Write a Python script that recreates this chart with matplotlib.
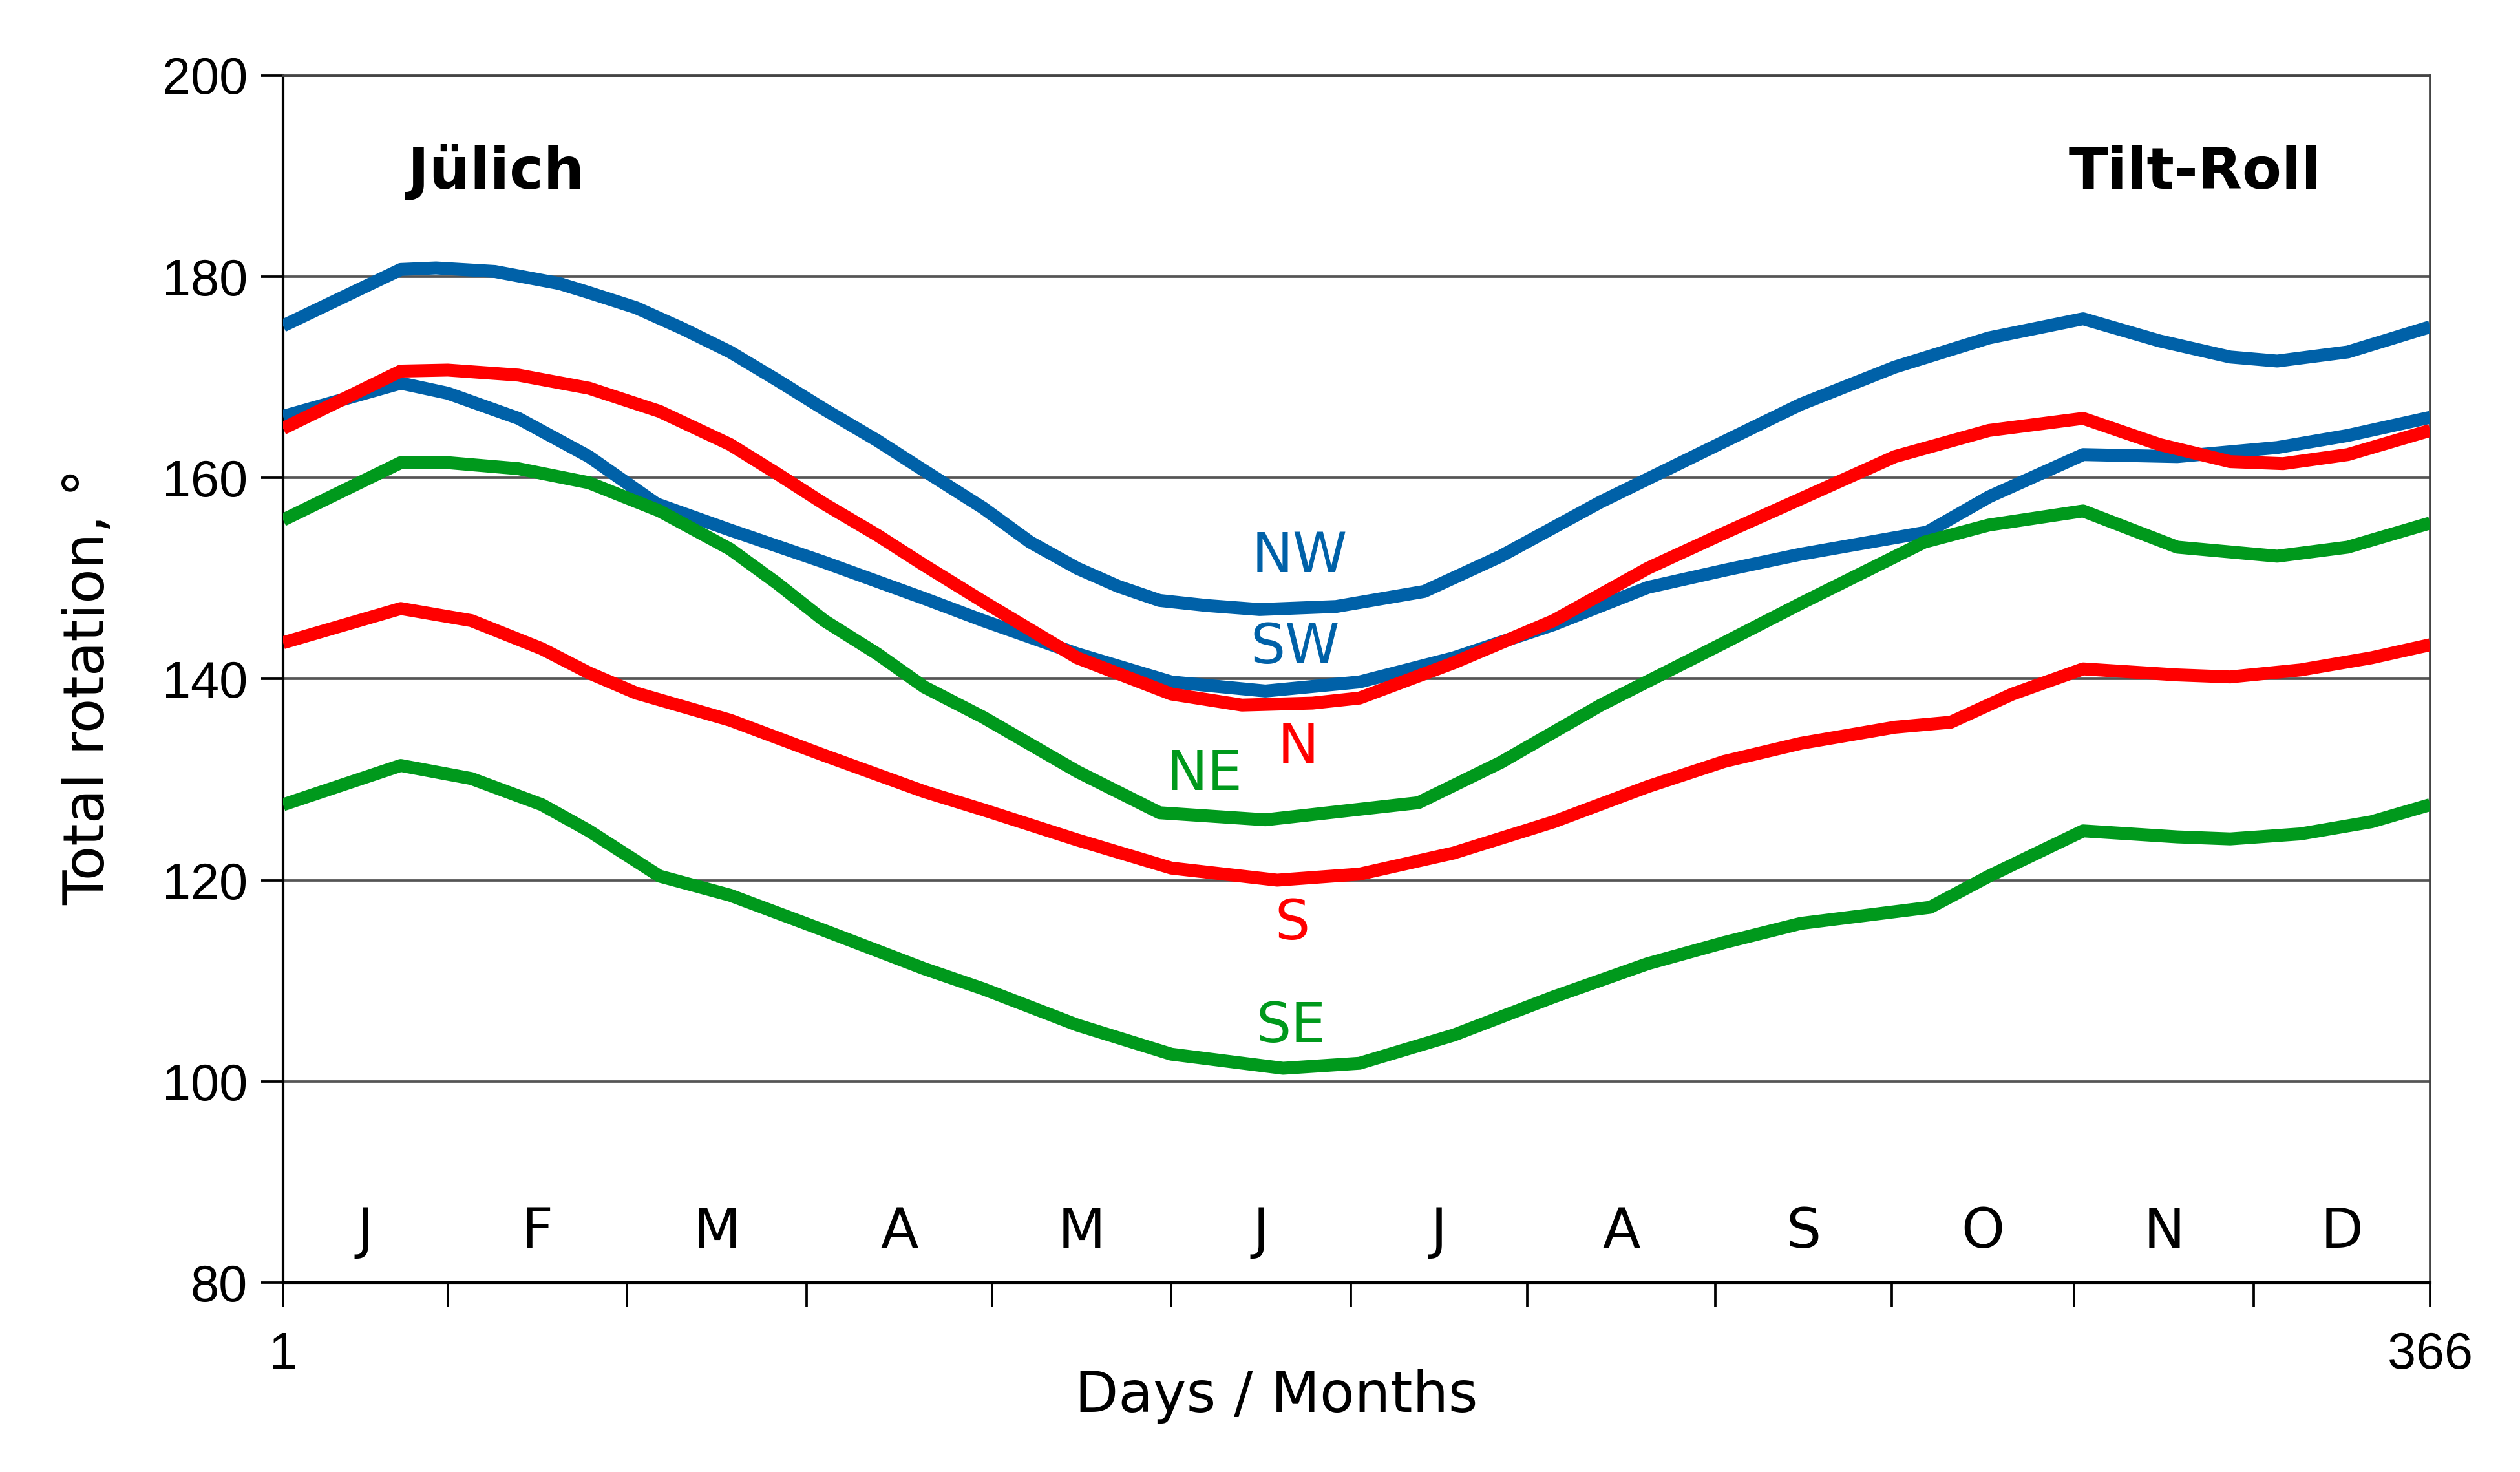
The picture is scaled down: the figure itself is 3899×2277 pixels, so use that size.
import matplotlib.pyplot as plt

# Werte (Tag im Jahr, Gesamtrotation in Grad)
nw_days = [1, 21, 27, 37, 48, 53, 61, 69, 77, 85, 93, 102, 110, 120, 128, 136, 143, 150, 158, 167, 180, 195, 208, 225, 246, 259, 275, 291, 307, 320, 332, 340, 352, 366]
nw_vals = [175.1, 180.7, 180.85, 180.5, 179.3, 178.4, 176.9, 174.8, 172.5, 169.7, 166.8, 163.7, 160.7, 157.0, 153.6, 151.0, 149.2, 147.8, 147.3, 146.9, 147.2, 148.7, 152.2, 157.6, 163.6, 167.3, 171.0, 173.9, 175.8, 173.6, 172.0, 171.6, 172.5, 175.0]

sw_days = [1, 21, 29, 41, 53, 64.5, 77, 93, 110, 120, 136, 152, 168, 184, 200, 217, 233, 246, 259, 280.5, 291, 307, 323, 340, 352, 366]
sw_vals = [166.1, 169.4, 168.4, 165.9, 162.1, 157.4, 154.8, 151.6, 148.0, 145.8, 142.5, 139.7, 138.8, 139.7, 142.1, 145.4, 149.1, 150.8, 152.4, 154.6, 158.1, 162.3, 162.1, 163.0, 164.2, 166.0]

n_days = [1, 21, 29, 41, 53, 65, 77, 85, 93, 102, 110, 120, 136, 152, 164, 176, 184, 200, 217, 233, 246, 259, 275, 291, 307, 320, 332, 341, 352, 366]
n_vals = [164.9, 170.6, 170.7, 170.2, 168.9, 166.6, 163.3, 160.4, 157.4, 154.3, 151.3, 147.7, 142.1, 138.5, 137.4, 137.6, 138.1, 141.6, 145.8, 151.0, 154.5, 157.9, 162.1, 164.7, 165.9, 163.3, 161.6, 161.4, 162.3, 164.7]

s_days = [1, 21, 33, 45, 53, 61, 77, 93, 110, 120, 136, 152, 170, 184, 200, 217, 233, 246, 259, 275, 284.5, 295, 307, 323, 332, 344, 356, 366]
s_vals = [143.6, 147.0, 145.8, 143.0, 140.6, 138.6, 135.9, 132.4, 128.8, 127.0, 124.0, 121.2, 120.0, 120.6, 122.7, 125.8, 129.3, 131.8, 133.6, 135.2, 135.7, 138.5, 141.0, 140.4, 140.2, 140.9, 142.1, 143.4]

ne_days = [1, 21, 29, 41, 53, 65, 77, 85, 93, 102, 110, 120, 136, 150, 168, 194, 208, 225, 246, 259, 280, 291, 307, 323, 340, 352, 366]
ne_vals = [155.8, 161.5, 161.5, 160.9, 159.5, 156.7, 152.9, 149.5, 145.8, 142.5, 139.2, 136.2, 130.8, 126.7, 126.0, 127.7, 131.7, 137.4, 143.6, 147.5, 153.6, 155.3, 156.7, 153.1, 152.2, 153.1, 155.5]

se_days = [1, 21, 33, 45, 53, 65, 77, 93, 110, 120, 136, 152, 171, 184, 200, 217, 233, 246, 259, 281, 291, 307, 323, 332, 344, 356, 366]
se_vals = [127.5, 131.4, 130.1, 127.5, 124.9, 120.4, 118.5, 115.0, 111.2, 109.2, 105.6, 102.7, 101.3, 101.8, 104.6, 108.4, 111.7, 113.8, 115.7, 117.3, 120.4, 124.9, 124.3, 124.1, 124.6, 125.8, 127.5]

month_ticks = [1, 29, 59.5, 90, 121.5, 152, 182.5, 212.5, 244.5, 274.5, 305.5, 336, 366]
month_letters = ['J', 'F', 'M', 'A', 'M', 'J', 'J', 'A', 'S', 'O', 'N', 'D']
y_ticks = [80, 100, 120, 140, 160, 180, 200]

BLUE = '#0061a8'
RED = '#ff0000'
GREEN = '#00991c'

series = [
    (nw_days, nw_vals, BLUE),
    (sw_days, sw_vals, BLUE),
    (n_days, n_vals, RED),
    (s_days, s_vals, RED),
    (ne_days, ne_vals, GREEN),
    (se_days, se_vals, GREEN),
]
# Beschriftungen der Kurven (Tag, Wert)
curve_labels = [
    ('NW', 173.8, 152.1, BLUE),
    ('SW', 173.0, 143.1, BLUE),
    ('N', 173.6, 133.2, RED),
    ('NE', 157.6, 130.5, GREEN),
    ('S', 172.6, 115.6, RED),
    ('SE', 172.3, 105.4, GREEN),
]

fig = plt.figure(figsize=(3899 / 300, 2277 / 300), dpi=300)
ax = fig.add_axes([438 / 3899, 1 - 1984 / 2277, (3760 - 438) / 3899, (1984 - 116.5) / 2277])

for y in y_ticks[1:]:
    ax.axhline(y, color='#555555', lw=0.9, zorder=1)

for d, v, c in series:
    ax.plot(d, v, color=c, lw=4.8, solid_joinstyle='round', solid_capstyle='butt', zorder=3)

for txt, x, y, c in curve_labels:
    ax.text(x, y, txt, color=c, fontsize=20.5, ha='center', va='center', family='DejaVu Sans')

for i, m in enumerate(month_letters):
    ax.text((month_ticks[i] + month_ticks[i + 1]) / 2, 85.0, m, fontsize=20.5,
            ha='center', va='center', family='DejaVu Sans')

ax.text(37.2, 190.3, 'Jülich', fontsize=21.3, fontweight='bold', ha='center', va='center')
ax.text(326, 190.3, 'Tilt-Roll', fontsize=21.3, fontweight='bold', ha='center', va='center')

ax.set_xlim(1, 366)
ax.set_ylim(80, 200)
ax.set_yticks(y_ticks)
ax.set_yticklabels([str(t) for t in y_ticks], family='Liberation Sans', fontsize=19)
ax.set_xticks(month_ticks)
ax.set_xticklabels(['1'] + [''] * 11 + ['366'], family='Liberation Sans', fontsize=19)
ax.tick_params(axis='y', direction='out', length=8.2, width=0.9, pad=5)
ax.tick_params(axis='x', direction='out', length=8.9, width=0.9, pad=9)

for side in ['left', 'bottom']:
    ax.spines[side].set_color('black')
    ax.spines[side].set_linewidth(1.0)
for side in ['top', 'right']:
    ax.spines[side].set_color('#444444')
    ax.spines[side].set_linewidth(0.9)

fig.text(1975 / 3899, 1 - 2160 / 2277, 'Days / Months', fontsize=21, ha='center', va='center')
fig.text(137 / 3899, 1 - 1062 / 2277, 'Total rotation, °', fontsize=21, rotation=90,
         ha='center', va='center')

fig.savefig('out.png', dpi=300, facecolor='white')
